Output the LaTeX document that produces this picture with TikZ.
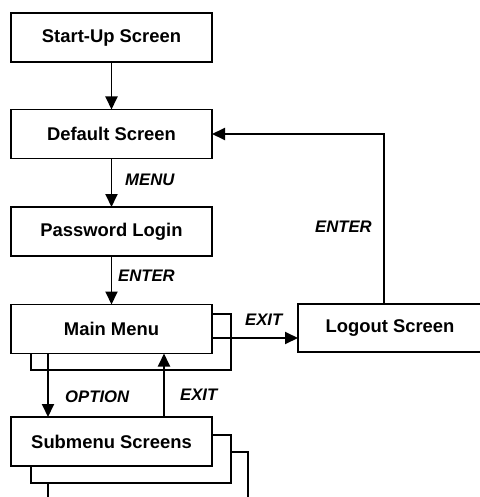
\documentclass[tikz,border=0pt]{standalone}
\usepackage{fontspec}
\setmainfont{Liberation Sans}
\usetikzlibrary{arrows.meta}
\begin{document}
\begin{tikzpicture}[x=1pt,y=-1pt,
  box/.style={draw, fill=white, line width=1.9pt, inner sep=0pt, outer sep=0pt,
    minimum width=201pt, minimum height=49pt,
    font=\fontsize{18.4}{22}\selectfont\bfseries},
  shadowbox/.style={draw, fill=white, line width=1.9pt, inner sep=0pt, outer sep=0pt},
  lbl/.style={font=\fontsize{16.7}{20}\selectfont\bfseries\itshape, inner sep=0pt},
  conn/.style={line width=1.9pt, -{Triangle[length=13pt,width=12pt]}},
  plain/.style={line width=1.9pt}]
\useasboundingbox (0,0) rectangle (479,497);
% boxes
\node[box] (start) at (111.5,37.5) {Start-Up Screen};
\node[box] (default) at (111.5,134) {Default Screen};
\node[box] (pass) at (111.5,231.5) {Password Login};
\node[shadowbox, minimum width=200pt, minimum height=56pt] (mainsh) at (131,342) {};
\node[box] (main) at (111.5,329) {Main Menu};
\node[shadowbox, minimum width=200pt, minimum height=60pt] (subsh2) at (148,482) {};
\node[shadowbox, minimum width=200pt, minimum height=48pt] (subsh1) at (131,459) {};
\node[box] (sub) at (111.5,441.5) {Submenu Screens};
\node[box, minimum width=184pt, minimum height=48pt] (logout) at (390,328) {};
\node[font=\fontsize{18.4}{22}\selectfont\bfseries, inner sep=0pt] (logouttxt) at (390,328) {Logout Screen};
% connectors
\draw[conn] (start.south) -- (default.north);
\draw[conn] (default.south) -- (pass.north);
\draw[conn] (pass.south) -- (main.north);
\coordinate (exitstart) at ([yshift=-9pt]main.east);
\draw[conn] (exitstart) -- (exitstart -| logout.west);
\coordinate (turn) at ([xshift=-6pt]logout.north);
\coordinate (corner) at (turn |- default.east);
\draw[conn] (turn) -- (corner) -- (default.east);
\draw[conn] ([xshift=37pt]main.south west) -- ([xshift=37pt]sub.north west);
\draw[conn] ([xshift=153pt]sub.north west) -- ([xshift=153pt]main.south west);
% labels
\node[lbl, anchor=west] (lmenu) at (125,180) {MENU};
\node[lbl, anchor=west] (lenter1) at (118,276) {ENTER};
\node[lbl, anchor=west] (lenter2) at (315,227) {ENTER};
\node[lbl, anchor=west] (lexit1) at (245,320) {EXIT};
\node[lbl, anchor=west] (loption) at (65,397) {OPTION};
\node[lbl, anchor=west] (lexit2) at (180,395) {EXIT};
\end{tikzpicture}
\end{document}
